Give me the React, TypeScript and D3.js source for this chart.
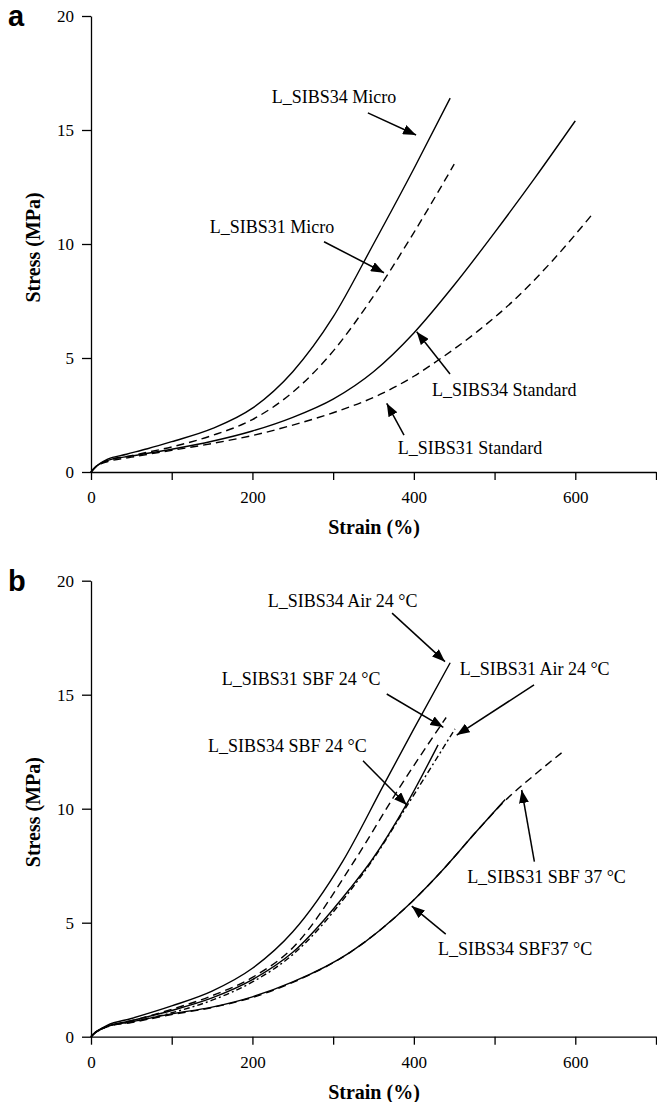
import React, { useEffect, useRef } from 'react';
import * as d3 from 'd3';

type Pt = [number, number];

// panel a — strain (%) vs stress (MPa)
const micro34: Pt[] = [[0, 0], [5, 0.2], [10, 0.35], [20, 0.55], [44, 0.78], [70, 1.02], [100, 1.33], [150, 1.9], [200, 2.8], [250, 4.4], [300, 6.8], [350, 10.0], [400, 13.3], [445, 16.4]];
const micro31: Pt[] = [[0, 0], [5, 0.2], [10, 0.33], [20, 0.5], [50, 0.72], [100, 1.1], [150, 1.6], [200, 2.3], [250, 3.5], [300, 5.3], [342, 7.3], [400, 10.5], [450, 13.5]];
const standard34: Pt[] = [[0, 0], [5, 0.2], [10, 0.33], [20, 0.5], [50, 0.7], [100, 1.0], [150, 1.35], [200, 1.8], [250, 2.4], [300, 3.2], [350, 4.4], [400, 6.1], [450, 8.2], [500, 10.5], [550, 12.9], [600, 15.4]];
const standard31: Pt[] = [[0, 0], [5, 0.2], [10, 0.32], [20, 0.45], [50, 0.65], [100, 0.95], [150, 1.25], [200, 1.6], [259, 2.15], [300, 2.6], [358, 3.4], [400, 4.2], [430, 4.9], [480, 6.2], [523, 7.5], [570, 9.2], [621, 11.3]];

// panel b
const air34: Pt[] = [[0, 0], [5, 0.18], [10, 0.3], [20, 0.5], [50, 0.8], [100, 1.35], [150, 2.0], [200, 3.0], [250, 4.6], [312, 7.7], [362, 11.0], [400, 13.5], [445, 16.4]];
const sbf24_31: Pt[] = [[0, 0], [5, 0.18], [10, 0.3], [20, 0.45], [50, 0.7], [100, 1.2], [150, 1.8], [200, 2.6], [250, 3.9], [327, 7.75], [380, 10.8], [440, 14.0]];
const sbf24_34: Pt[] = [[0, 0], [5, 0.18], [10, 0.3], [20, 0.45], [50, 0.7], [100, 1.15], [150, 1.7], [200, 2.5], [250, 3.7], [321, 6.5], [348, 7.75], [391, 10.2], [430, 12.8]];
const air31: Pt[] = [[0, 0], [5, 0.17], [10, 0.28], [20, 0.45], [50, 0.65], [100, 1.05], [150, 1.6], [200, 2.4], [250, 3.6], [321, 6.4], [348, 7.7], [391, 10.1], [451, 13.5]];
const sbf37_34: Pt[] = [[0, 0], [5, 0.17], [10, 0.28], [20, 0.45], [50, 0.65], [100, 1.0], [150, 1.3], [200, 1.75], [250, 2.4], [321, 3.7], [397, 5.9], [438, 7.4], [475, 8.9], [513, 10.4]];
const sbf37_31: Pt[] = [[0, 0], [5, 0.17], [10, 0.28], [20, 0.43], [50, 0.62], [100, 0.97], [150, 1.28], [200, 1.72], [250, 2.38], [321, 3.7], [397, 5.9], [438, 7.4], [475, 8.9], [513, 10.35], [550, 11.5], [583, 12.45]];

const xTicks = [0, 100, 200, 300, 400, 500, 600, 700];
const xLabels = [0, 200, 400, 600];
const yTicks = [0, 5, 10, 15, 20];

// annotations: label start, arrow tail, arrow tip (data units)
interface Note { text: string; at: Pt; from: Pt; to: Pt }
const notesA: Note[] = [
  { text: 'L_SIBS34 Micro', at: [224, 16.18], from: [343, 15.75], to: [402.7, 14.78] },
  { text: 'L_SIBS31 Micro', at: [147, 10.5], from: [288.7, 10.1], to: [363, 8.74] },
  { text: 'L_SIBS34 Standard', at: [422.5, 3.33], from: [444.8, 4.3], to: [403.5, 6.15] },
  { text: 'L_SIBS31 Standard', at: [380, 0.79], from: [387.8, 1.62], to: [366.4, 3.01] },
];
const notesB: Note[] = [
  { text: 'L_SIBS34 Air 24 °C', at: [219, 18.85], from: [373, 18.58], to: [438.6, 16.45] },
  { text: 'L_SIBS31 SBF 24 °C', at: [162, 15.43], from: [366.4, 15.03], to: [436.5, 13.57] },
  { text: 'L_SIBS31 Air 24 °C', at: [457, 15.86], from: [548.9, 15.43], to: [453.1, 13.23] },
  { text: 'L_SIBS34 SBF 24 °C', at: [145, 12.5], from: [337, 12.1], to: [391.2, 10.16] },
  { text: 'L_SIBS31 SBF 37 °C', at: [466, 6.75], from: [549.3, 7.68], to: [533.6, 10.82] },
  { text: 'L_SIBS34 SBF37 °C', at: [430, 3.58], from: [439.5, 4.5], to: [397.4, 5.73] },
];

interface Series { data: Pt[]; dash?: string }
const seriesA: Series[] = [
  { data: micro34 },
  { data: micro31, dash: '8,5' },
  { data: standard34 },
  { data: standard31, dash: '8,5' },
];
const seriesB: Series[] = [
  { data: air34 },
  { data: sbf24_31, dash: '8,5' },
  { data: sbf24_34 },
  { data: air31, dash: '6,3,2,3' },
  { data: sbf37_34 },
  { data: sbf37_31, dash: '8,5' },
];

const W = 657;
const H = 1102;
const serif = 'Liberation Serif';

const x = d3.scaleLinear().domain([0, 700]).range([91, 656]);

const Panel = ({ letter, y0, series, notes }: { letter: string; y0: number; series: Series[]; notes: Note[] }) => {
  const leftRef = useRef<SVGGElement>(null);
  const bottomRef = useRef<SVGGElement>(null);
  const y = d3.scaleLinear().domain([0, 20]).range([y0, y0 - 456]);
  const line = d3.line<Pt>().x(d => x(d[0])).y(d => y(d[1])).curve(d3.curveMonotoneX);

  useEffect(() => {
    const left = d3.select(leftRef.current);
    const bottom = d3.select(bottomRef.current);
    left.selectAll('*').remove();
    bottom.selectAll('*').remove();
    left.call(d3.axisLeft(y).tickValues(yTicks).tickSize(9).tickSizeOuter(0).tickPadding(8));
    bottom.call(
      d3.axisBottom(x).tickValues(xTicks).tickSize(8).tickSizeOuter(0).tickPadding(11)
        .tickFormat(d => (xLabels.includes(+d) ? String(d) : ''))
    );
    [left, bottom].forEach(g => {
      g.attr('font-family', serif).attr('font-size', 17);
      g.selectAll('path, line').attr('stroke', '#000').attr('stroke-width', 1.3);
      g.selectAll('text').attr('fill', '#000');
    });
  }, [y0]);

  return (
    <g>
      <text x={8} y={y0 - 446} fontFamily="Liberation Sans" fontWeight="bold" fontSize={29}>{letter}</text>
      <g ref={leftRef} transform={`translate(${x(0)},0)`} />
      <g ref={bottomRef} transform={`translate(0,${y0})`} />
      <text transform={`translate(40,${y(9.85)}) rotate(-90)`} textAnchor="middle" fontFamily={serif} fontWeight="bold" fontSize={20}>Stress (MPa)</text>
      <text x={374} y={y0 + 62} textAnchor="middle" fontFamily={serif} fontWeight="bold" fontSize={20}>Strain (%)</text>
      {series.map((s, i) => (
        <path key={i} d={line(s.data) || ''} fill="none" stroke="#000" strokeWidth={1.4} strokeDasharray={s.dash} />
      ))}
      {notes.map((n, i) => (
        <g key={i}>
          <text x={x(n.at[0])} y={y(n.at[1])} fontFamily={serif} fontSize={18}>{n.text}</text>
          <line x1={x(n.from[0])} y1={y(n.from[1])} x2={x(n.to[0])} y2={y(n.to[1])} stroke="#000" strokeWidth={1.5} markerEnd="url(#arrowHead)" />
        </g>
      ))}
    </g>
  );
};

export default function App() {
  return (
    <svg width={W} height={H} style={{ position: 'absolute', left: 0, top: 0, background: '#fff' }}>
      <defs>
        <marker id="arrowHead" markerUnits="userSpaceOnUse" markerWidth={14} markerHeight={10} refX={13} refY={5} orient="auto">
          <path d="M0,0 L13,5 L0,10 Z" fill="#000" />
        </marker>
      </defs>
      <rect width={W} height={H} fill="#fff" />
      <Panel letter="a" y0={472} series={seriesA} notes={notesA} />
      <Panel letter="b" y0={1036.7} series={seriesB} notes={notesB} />
    </svg>
  );
}
